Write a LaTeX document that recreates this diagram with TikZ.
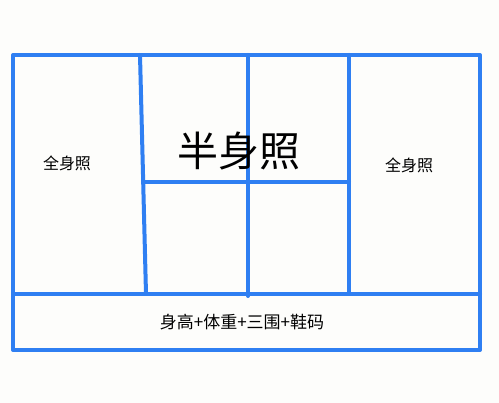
\documentclass[tikz,border=0pt]{standalone}
\usepackage{fontspec}
\newfontfamily\cjk{Noto Sans CJK SC}
\definecolor{frameblue}{HTML}{2F7FF2}
\definecolor{paper}{HTML}{FDFDFB}

\begin{document}
\begin{tikzpicture}[x=1pt,y=-1pt,line width=4pt,line cap=round,line join=round,
  frame/.style={draw=frameblue},
  label/.style={font=\cjk\fontsize{16}{16}\selectfont,inner sep=0pt},
  big/.style={font=\cjk\fontsize{41}{41}\selectfont,inner sep=0pt}]
  \fill[paper] (0,0) rectangle (499,403);
  \useasboundingbox (0,0) rectangle (499,403);
  \coordinate (tl) at (13,55);
  \coordinate (br) at (480,350);
  \coordinate (ml) at (13,294);
  \coordinate (mr) at (480,294);
  \coordinate (a top) at (140,55);
  \coordinate (a bot) at (146,294);
  \coordinate (a mid) at (144,182);
  \coordinate (b top) at (248,55);
  \coordinate (b bot) at (248,296);
  \coordinate (c top) at (349,55);
  \coordinate (c bot) at (349,294);
  \coordinate (c mid) at (349,182);
  \draw[frame] (tl) rectangle (br);
  \draw[frame] (ml) -- (mr);
  \draw[frame] (a top) -- (a bot);
  \draw[frame] (b top) -- (b bot);
  \draw[frame] (c top) -- (c bot);
  \draw[frame] (a mid) -- (c mid);
  \node[label] (full left) at (67,163) {全身照};
  \node[label] (full right) at (409,165) {全身照};
  \node[big] (half) at (239,151) {半身照};
  \node[label,font=\cjk\fontsize{17}{17}\selectfont] (stats) at (242,322) {身高+体重+三围+鞋码};
\end{tikzpicture}
\end{document}
